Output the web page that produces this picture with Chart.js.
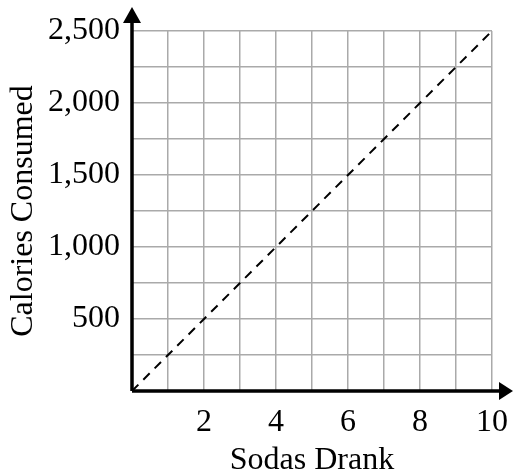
<!DOCTYPE html>
<html>
<head>
<meta charset="utf-8">
<script src="https://cdn.jsdelivr.net/npm/chart.js@4"></script>
<style>
  body { margin: 0; background: #fff; }
  #wrap { width: 513px; height: 475px; }
</style>
</head>
<body>
<div id="wrap"><canvas id="myChart" width="513" height="475"></canvas></div>
<script>
// data
var sodas = [0, 1, 2, 3, 4, 5, 6, 7, 8, 9, 10];
var calories = [0, 250, 500, 750, 1000, 1250, 1500, 1750, 2000, 2250, 2500];
var xTickLabels = [2, 4, 6, 8, 10];
var yTickLabels = [500, 1000, 1500, 2000, 2500];

var serif = '"Liberation Serif", "Times New Roman", serif';

// black axes with arrow heads
var arrowAxes = {
    id: 'arrowAxes',
    afterDraw: function (chart) {
        var ctx = chart.ctx;
        var a = chart.chartArea;
        ctx.save();
        ctx.strokeStyle = '#000';
        ctx.fillStyle = '#000';
        ctx.lineWidth = 3.5;
        ctx.beginPath();
        ctx.moveTo(a.left, a.bottom);
        ctx.lineTo(a.right + 12, a.bottom);
        ctx.moveTo(a.left, a.bottom);
        ctx.lineTo(a.left, a.top - 12);
        ctx.stroke();
        // x arrow
        ctx.beginPath();
        ctx.moveTo(a.right + 21, a.bottom);
        ctx.lineTo(a.right + 7, a.bottom - 9);
        ctx.lineTo(a.right + 7, a.bottom + 9);
        ctx.closePath();
        ctx.fill();
        // y arrow
        ctx.beginPath();
        ctx.moveTo(a.left, a.top - 24);
        ctx.lineTo(a.left - 9, a.top - 8);
        ctx.lineTo(a.left + 9, a.top - 8);
        ctx.closePath();
        ctx.fill();
        ctx.restore();
    }
};

var ctx = document.getElementById('myChart');

var myChart = new Chart(ctx, {
    type: 'line',
    data: {
        labels: sodas,
        datasets: [{
            data: sodas.map(function (s, i) { return { x: s, y: calories[i] }; }),
            borderColor: '#000',
            borderWidth: 2,
            borderDash: [9, 7],
            pointRadius: 0,
            fill: false,
            tension: 0
        }]
    },
    options: {
        responsive: false,
        animation: false,
        layout: { padding: { top: 31, right: 21, left: 0, bottom: 0 } },
        plugins: {
            legend: { display: false },
            tooltip: { enabled: false }
        },
        scales: {
            x: {
                type: 'linear',
                min: 0,
                max: 10,
                ticks: {
                    stepSize: 1,
                    autoSkip: false,
                    maxRotation: 0,
                    padding: 12,
                    color: '#000',
                    font: { family: serif, size: 32 },
                    callback: function (v) { return xTickLabels.indexOf(v) >= 0 ? String(v) : ''; }
                },
                grid: { color: '#aaa', lineWidth: 1.5, drawTicks: false },
                border: { display: false },
                title: {
                    display: true,
                    text: 'Sodas Drank',
                    color: '#000',
                    font: { family: serif, size: 32 },
                    padding: { top: 0, bottom: -5 }
                },
                afterFit: function (s) {
                    s.height = 475 - 391;
                    s.paddingLeft = 0;
                    s.paddingRight = 0;
                }
            },
            y: {
                min: 0,
                max: 2500,
                ticks: {
                    stepSize: 250,
                    autoSkip: false,
                    padding: 12,
                    color: '#000',
                    font: { family: serif, size: 32 },
                    callback: function (v) { return yTickLabels.indexOf(v) >= 0 ? v.toLocaleString('en-US') : ''; }
                },
                grid: { color: '#aaa', lineWidth: 1.5, drawTicks: false },
                border: { display: false },
                title: {
                    display: true,
                    text: 'Calories Consumed',
                    color: '#000',
                    font: { family: serif, size: 32 },
                    padding: { top: 4, bottom: 0 }
                },
                afterFit: function (s) {
                    s.width = 132;
                    s.paddingTop = 0;
                    s.paddingBottom = 0;
                }
            }
        }
    },
    plugins: [arrowAxes]
});
</script>
</body>
</html>
